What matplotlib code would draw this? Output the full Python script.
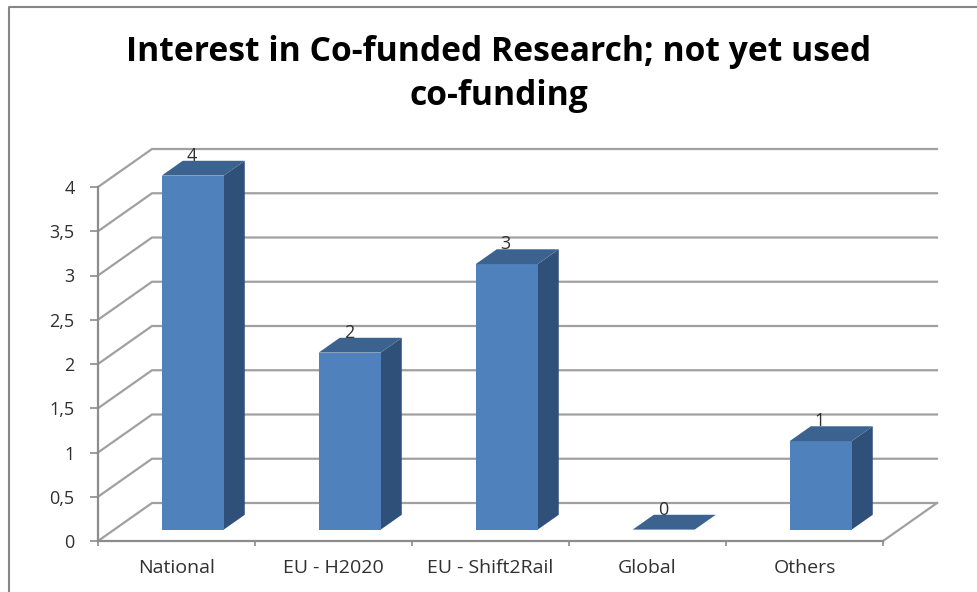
import matplotlib
matplotlib.use('Agg')
import matplotlib.pyplot as plt
from matplotlib.lines import Line2D

categories = ['National', 'EU - H2020', 'EU - Shift2Rail', 'Global', 'Others']
values = [4, 2, 3, 0, 1]
y_ticks = [0, 0.5, 1, 1.5, 2, 2.5, 3, 3.5, 4]
y_labels = ['0', '0,5', '1', '1,5', '2', '2,5', '3', '3,5', '4']
title = 'Interest in Co-funded Research; not yet used\nco-funding'

W, H = 978, 592
# pixels for one category / one value unit on the front plane
X_UNIT = 157.0
Y_UNIT = 88.5
# how far the back wall is shifted from the front plane, in data units
DEPTH_X = 54.0 / X_UNIT
DEPTH_Y = 38.0 / Y_UNIT

FRONT = '#4F81BD'
TOP = '#3C628F'
SIDE = '#2F5078'
GRID = '#A0A0A0'
AXIS = '#8C8C8C'
TEXT = '#303030'

plt.rcParams['font.family'] = ['Open Sans', 'DejaVu Sans']

fig = plt.figure(figsize=(W / 100, H / 100), dpi=100)
ax = fig.add_axes([98 / W, (H - 541) / H, 841 / W, 393 / H])
ax.set_xlim(0, 841 / X_UNIT)
ax.set_ylim(0, 393 / Y_UNIT)
ax.patch.set_alpha(0)


def proj(x, y, d):
    # d is depth, 0 = front plane, 1 = back wall
    return x + d * DEPTH_X, y + d * DEPTH_Y


# gridlines on the side and back walls
for t in y_ticks:
    x0, y0 = proj(0, t, 0)
    x1, y1 = proj(0, t, 1)
    x2, y2 = proj(len(categories), t, 1)
    ax.plot([x0, x1, x2], [y0, y1, y2], color=GRID, lw=1.6, zorder=1,
            solid_joinstyle='miter', clip_on=False)

# right edge of the floor
x0, y0 = proj(len(categories), 0, 0)
x1, y1 = proj(len(categories), 0, 1)
ax.plot([x0, x1], [y0, y1], color=GRID, lw=1.6, zorder=1, clip_on=False)

# bars, drawn as three faces
bar_w = 0.395
d0, d1 = 0.3, 0.69
for i, v in enumerate(values):
    left = i + 0.5 - bar_w / 2
    right = left + bar_w
    a = proj(left, 0, d0)
    b = proj(right, 0, d0)
    c = proj(right, v, d0)
    e = proj(left, v, d0)
    f = proj(left, v, d1)
    g = proj(right, v, d1)
    h = proj(right, 0, d1)
    if v > 0:
        ax.fill(*zip(c, b, h, g), color=SIDE, lw=0, zorder=3)
        ax.fill(*zip(a, b, c, e), color=FRONT, lw=0, zorder=3)
    ax.fill(*zip(e, c, g, f), color=TOP, lw=0, zorder=3)
    lx, ly = proj(i + 0.5, v, d1)
    ax.text(lx - 0.14, ly, str(v), ha='center', va='baseline',
            fontsize=13, color=TEXT, zorder=2)

ax.spines['top'].set_visible(False)
ax.spines['right'].set_visible(False)
ax.spines['left'].set_bounds(0, y_ticks[-1])
ax.spines['bottom'].set_bounds(0, len(categories))
ax.spines['left'].set_color(AXIS)
ax.spines['bottom'].set_color(AXIS)
ax.spines['left'].set_linewidth(1.6)
ax.spines['bottom'].set_linewidth(1.6)

ax.set_yticks(y_ticks)
ax.set_yticklabels(y_labels, fontsize=13, color=TEXT)
ax.tick_params(axis='y', length=5.8, width=1.2, color=AXIS, pad=11)

ax.set_xticks(range(len(categories) + 1))
ax.set_xticklabels([])
ax.tick_params(axis='x', which='major', length=3.8, width=1.2, color=AXIS)
ax.set_xticks([i + 0.5 for i in range(len(categories))], minor=True)
ax.set_xticklabels(categories, minor=True, fontsize=14, color=TEXT)
ax.tick_params(axis='x', which='minor', length=0, pad=13)

fig.text(499 / W, (H - 74) / H, title, ha='center', va='center', fontsize=24.2,
         fontweight='bold', color='black', linespacing=1.36)

# chart frame, only left and top are inside the crop
fig.add_artist(Line2D([8.5 / W, 8.5 / W, 1], [0, (H - 7) / H, (H - 7) / H],
                      color='#868686', lw=1.5))

fig.savefig('out.png', dpi=100)
